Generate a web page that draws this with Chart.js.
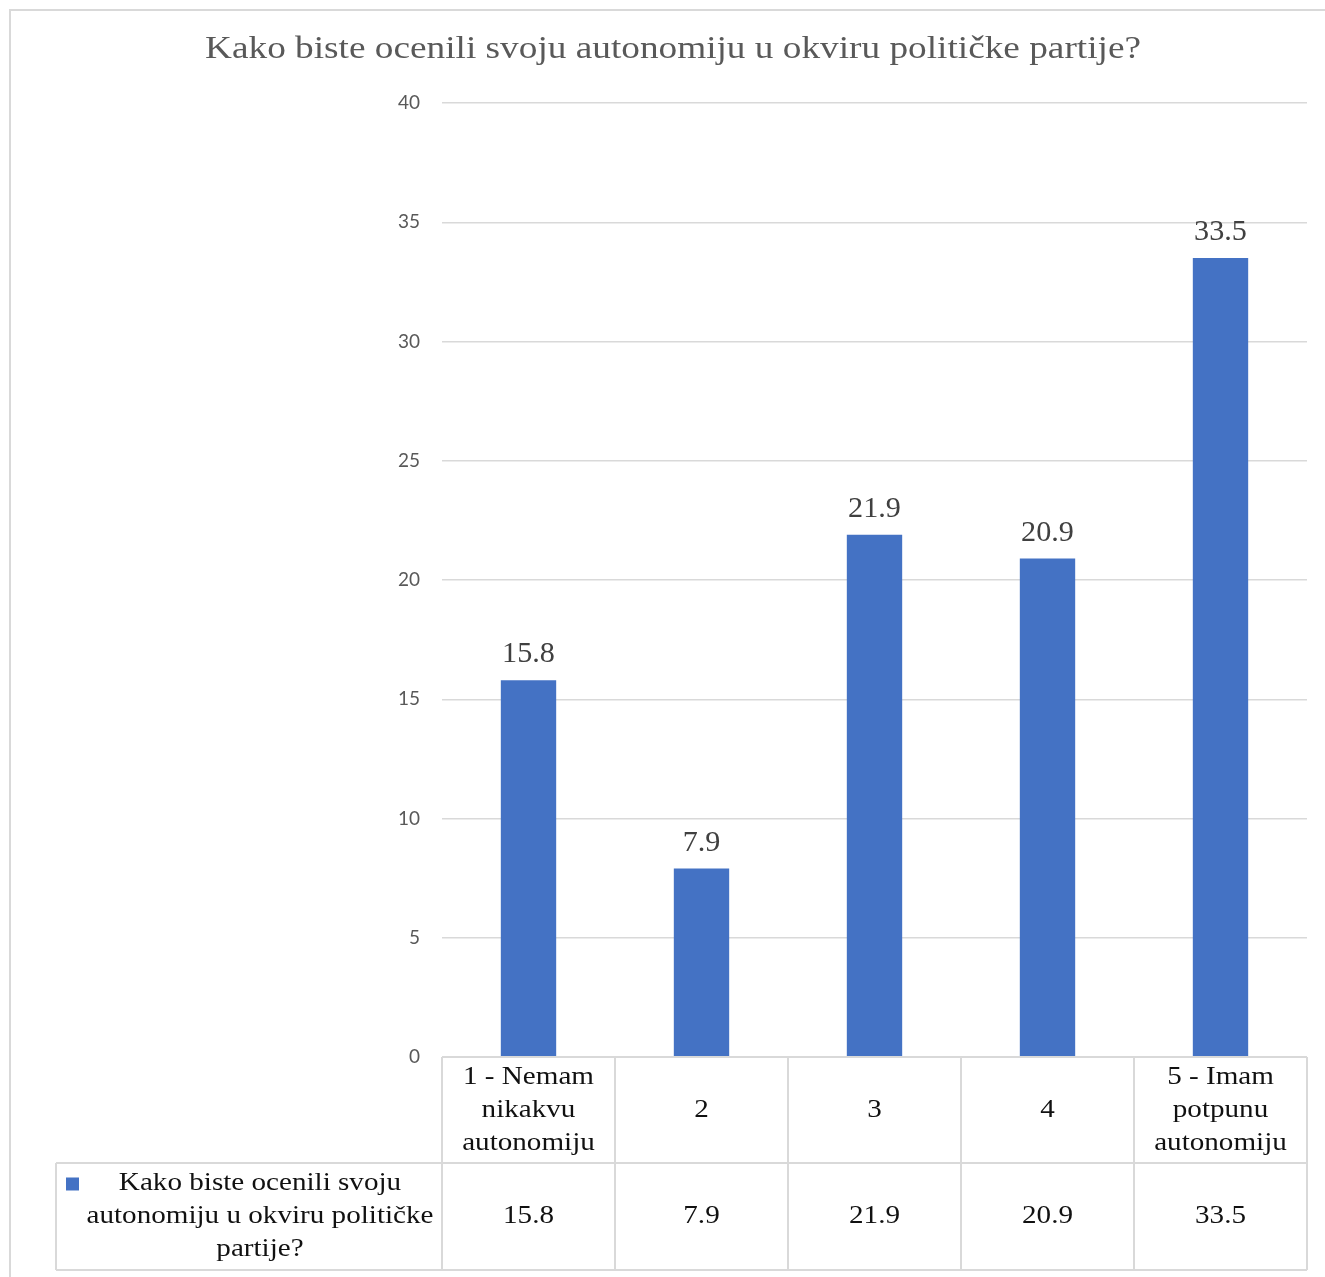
<!DOCTYPE html>
<html>
<head>
<meta charset="utf-8">
<script src="https://cdn.jsdelivr.net/npm/chart.js@4.4.1/dist/chart.umd.min.js"></script>
<style>
  html,body{margin:0;padding:0;background:#fff;}
  canvas{display:block;}
</style>
</head>
<body>
<canvas id="chart" width="1325" height="1277"></canvas>
<script>
const titleText = 'Kako biste ocenili svoju autonomiju u okviru političke partije?';
const categories = [['1 - Nemam','nikakvu','autonomiju'], ['2'], ['3'], ['4'], ['5 - Imam','potpunu','autonomiju']];
const seriesName = ['Kako biste ocenili svoju', 'autonomiju u okviru političke', 'partije?'];
const values = [15.8, 7.9, 21.9, 20.9, 33.5];
const yTicks = [0, 5, 10, 15, 20, 25, 30, 35, 40];

const BLUE = '#4472C4';
const LINE = '#d9d9d9';
const SERIF = '"Liberation Serif", "Times New Roman", serif';

// text drawn a bit wider, like the source picture
function wideText(c, t, x, y, sx){
  c.save(); c.translate(x, y); c.scale(sx, 1); c.fillText(t, 0, 0); c.restore();
}

// frame + title
const framePlugin = {
  id:'frame',
  beforeDraw(chart){
    const c = chart.ctx;
    c.save();
    c.strokeStyle = LINE; c.lineWidth = 2;
    c.beginPath();
    c.moveTo(10, chart.height+5); c.lineTo(10, 10); c.lineTo(chart.width+5, 10);
    c.stroke();
    c.fillStyle = '#595959'; c.font = '32px ' + SERIF;
    c.textAlign = 'center'; c.textBaseline = 'middle';
    wideText(c, titleText, 673, 50, 1.165);
    c.restore();
  }
};

// value labels over bars
const labelPlugin = {
  id:'barLabels',
  afterDatasetsDraw(chart){
    const c = chart.ctx;
    c.save();
    c.font = '29px ' + SERIF; c.fillStyle = '#404040';
    c.textAlign = 'center'; c.textBaseline = 'alphabetic';
    chart.getDatasetMeta(0).data.forEach((bar,i)=>{
      wideText(c, String(values[i]), bar.x, bar.y - 18, 1.04);
    });
    c.restore();
  }
};

// data table under the plot
const tablePlugin = {
  id:'dataTable',
  afterDraw(chart){
    const c = chart.ctx, x = chart.scales.x, area = chart.chartArea;
    const n = categories.length, w = (area.right - area.left)/n;
    const top = area.bottom, mid = top + 106, bot = top + 213, leftCell = 56;
    c.save();
    c.strokeStyle = LINE; c.lineWidth = 2;
    c.beginPath();
    c.moveTo(area.left, top); c.lineTo(area.right, top);
    c.moveTo(leftCell, mid); c.lineTo(area.right, mid);
    c.moveTo(leftCell, bot); c.lineTo(area.right, bot);
    c.moveTo(leftCell, mid); c.lineTo(leftCell, bot);
    for(let i=0;i<=n;i++){
      const px = area.left + i*w;
      c.moveTo(px, top); c.lineTo(px, bot);
    }
    c.stroke();

    c.fillStyle = '#111'; c.textAlign = 'center'; c.textBaseline = 'middle';
    c.font = '26px ' + SERIF;
    const lh = 33, sx = 1.12;
    categories.forEach((lines,i)=>{
      const cx = x.getPixelForValue(i);
      const y0 = (top+mid)/2 - (lines.length-1)*lh/2;
      lines.forEach((t,k)=> wideText(c, t, cx, y0 + k*lh, sx));
      wideText(c, String(values[i]), cx, (mid+bot)/2, sx);
    });
    // legend cell
    const ly0 = (mid+bot)/2 - (seriesName.length-1)*lh/2;
    seriesName.forEach((t,k)=> wideText(c, t, 260, ly0 + k*lh, sx));
    c.fillStyle = BLUE;
    c.fillRect(66, ly0 - 6, 13, 13);
    c.restore();
  }
};

new Chart(document.getElementById('chart'), {
  type:'bar',
  data:{
    labels: categories.map(l=>l.join(' ')),
    datasets:[{label: titleText, data: values, backgroundColor: BLUE, barPercentage: 0.32, categoryPercentage: 1}]
  },
  options:{
    responsive:false, animation:false,
    layout:{padding:{left:0, right:18, top:103, bottom:220}},
    plugins:{
      legend:{display:false}, tooltip:{enabled:false}, title:{display:false}
    },
    scales:{
      x:{display:false},
      y:{
        min:0, max:40,
        afterFit(s){ s.width = 442; },
        afterBuildTicks(s){ s.ticks = yTicks.map(v=>({value:v})); },
        grid:{color:LINE, lineWidth:1.5, drawTicks:false},
        border:{display:false},
        ticks:{color:'#595959', padding:22, font:{family:'Lato, "Open Sans", sans-serif', size:19}}
      }
    }
  },
  plugins:[framePlugin, labelPlugin, tablePlugin]
});
</script>
</body>
</html>
